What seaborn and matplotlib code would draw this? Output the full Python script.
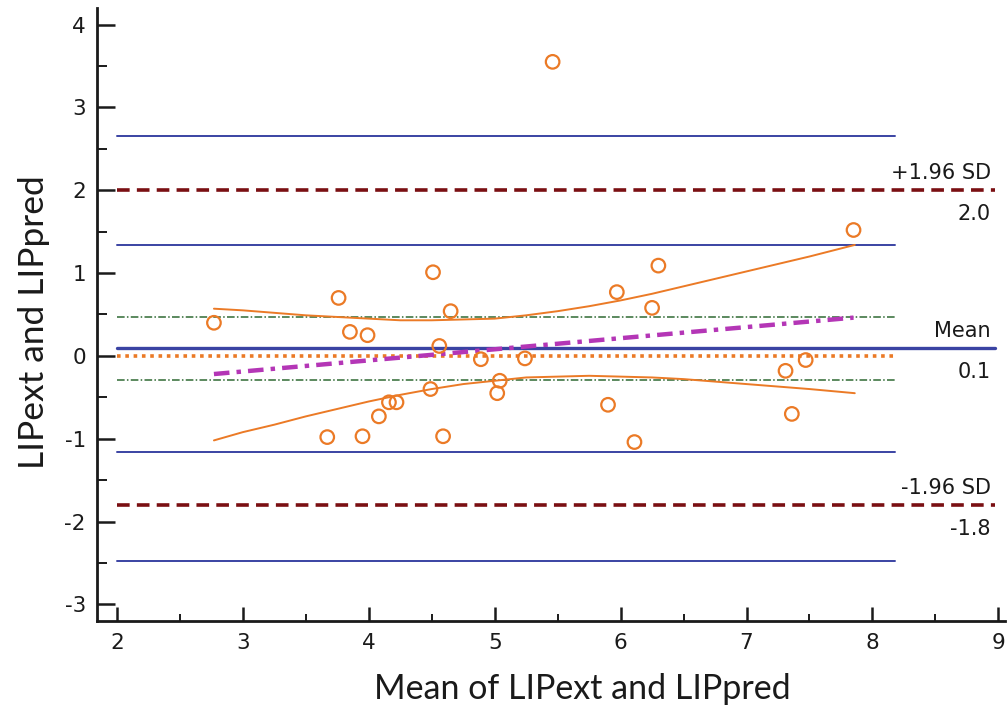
import numpy as np
import pandas as pd
import matplotlib
matplotlib.use("Agg")
import matplotlib.pyplot as plt
import seaborn as sns

# Bland-Altman data: mean of the two methods vs. their difference
mean_vals = [2.77, 3.67, 3.76, 3.85, 3.95, 3.99, 4.08, 4.16, 4.22, 4.49,
             4.51, 4.56, 4.59, 4.65, 4.89, 5.02, 5.04, 5.24, 5.46, 5.90,
             5.97, 6.11, 6.25, 6.30, 7.31, 7.36, 7.47, 7.85]
diff_vals = [0.40, -0.98, 0.70, 0.29, -0.97, 0.25, -0.73, -0.56, -0.56, -0.40,
             1.01, 0.12, -0.97, 0.54, -0.04, -0.45, -0.30, -0.03, 3.55, -0.59,
             0.77, -1.04, 0.58, 1.09, -0.18, -0.70, -0.05, 1.52]

# Agreement statistics
bias = 0.1
upper_loa = 2.0
lower_loa = -1.8
bias_ci = [-0.29, 0.47]
upper_loa_ci = [1.34, 2.65]
lower_loa_ci = [-2.47, -1.16]

# Regression of difference on mean, with its confidence band
reg_intercept = -0.59
reg_slope = 0.134
band_x = [2.77, 3.00, 3.25, 3.50, 3.75, 4.00, 4.25, 4.50, 4.75, 5.00, 5.25,
          5.50, 5.75, 6.00, 6.25, 6.50, 6.75, 7.00, 7.25, 7.50, 7.86]
band_upper = [0.57, 0.55, 0.52, 0.49, 0.47, 0.45, 0.43, 0.43, 0.44, 0.45, 0.49,
              0.54, 0.60, 0.67, 0.75, 0.84, 0.93, 1.02, 1.11, 1.20, 1.34]
band_lower = [-1.02, -0.92, -0.83, -0.73, -0.64, -0.55, -0.47, -0.40, -0.34, -0.30, -0.26,
              -0.25, -0.24, -0.25, -0.26, -0.28, -0.31, -0.34, -0.37, -0.40, -0.45]

# Labels
x_label = "Mean of LIPext and LIPpred"
y_label = "LIPext and LIPpred"
upper_text = ["+1.96 SD", "2.0"]
mean_text = ["Mean", "0.1"]
lower_text = ["-1.96 SD", "-1.8"]

sns.set_theme(style="white")
plt.rcParams["font.family"] = ["DejaVu Sans"]
plt.rcParams["axes.unicode_minus"] = False

ORANGE = "#EB7A26"
BLUE = "#3A43A3"
DARKRED = "#7A0F12"
GREEN = "#2F6A33"
MAGENTA = "#B436B6"
INK = "#1a1a1a"

fig = plt.figure(figsize=(10.07, 7.08), dpi=100)
ax = fig.add_axes([0.0963, 0.1229, 0.9017, 0.8658])

ax.set_xlim(1.841, 9.053)
ax.set_ylim(-3.2, 4.2)

short_end = 8.18
long_end = 8.97

# Confidence limits of the limits of agreement
for yv in upper_loa_ci + lower_loa_ci:
    ax.plot([2, short_end], [yv, yv], color=BLUE, lw=1.4, zorder=2)

# Confidence interval of the mean difference
for yv in bias_ci:
    ax.plot([2, short_end], [yv, yv], color=GREEN, lw=1.1,
            dashes=(5, 1.5, 1, 1.5), zorder=2)

# Line of equality
ax.plot([2, short_end], [0, 0], color=ORANGE, lw=2.6, dashes=(1, 1.3), zorder=2)

# Mean difference
ax.plot([2, long_end], [bias, bias], color=BLUE, lw=2.4, zorder=3)

# Limits of agreement
for yv in (upper_loa, lower_loa):
    ax.plot([2, long_end], [yv, yv], color=DARKRED, lw=2.6, dashes=(3.5, 2), zorder=3)

# Regression line
reg_x = np.array([min(mean_vals), max(mean_vals)])
ax.plot(reg_x, reg_intercept + reg_slope * reg_x, color=MAGENTA, lw=3.2,
        dashes=(3.5, 1.6, 1, 1.6), zorder=4)

# Confidence band of the regression line
band = pd.DataFrame({"x": band_x, "upper": band_upper, "lower": band_lower})
sns.lineplot(data=band, x="x", y="upper", ax=ax, color=ORANGE, lw=1.4, zorder=4)
sns.lineplot(data=band, x="x", y="lower", ax=ax, color=ORANGE, lw=1.4, zorder=4)

# Observations
pts = pd.DataFrame({"mean": mean_vals, "diff": diff_vals})
sns.scatterplot(data=pts, x="mean", y="diff", ax=ax, s=95, marker="o",
                facecolors="none", edgecolor=ORANGE, linewidth=1.6, zorder=5)

# Right-hand annotations
tx = 8.94
lab_kw = dict(ha="right", fontsize=15, color=INK, textcoords="offset points")
for yv, (above, below) in ((upper_loa, upper_text), (bias, mean_text), (lower_loa, lower_text)):
    ax.annotate(above, (tx, yv), xytext=(0, 5), va="bottom", **lab_kw)
    ax.annotate(below, (tx, yv), xytext=(0, -10), va="top", **lab_kw)

# Axes styling
for side in ("top", "right"):
    ax.spines[side].set_visible(False)
for side in ("left", "bottom"):
    ax.spines[side].set_color(INK)
    ax.spines[side].set_linewidth(2.0)

ax.set_xticks(range(2, 10))
ax.set_yticks(range(-3, 5))
ax.set_xticks(np.arange(2.5, 9.0, 1.0), minor=True)
ax.set_yticks(np.arange(-2.5, 4.0, 1.0), minor=True)
ax.tick_params(axis="y", which="major", direction="in", length=13, width=1.8,
               labelsize=15.5, pad=8, colors=INK)
ax.tick_params(axis="y", which="minor", direction="in", length=7, width=1.4)
ax.tick_params(axis="x", which="major", direction="in", length=10, width=1.8,
               labelsize=15.5, pad=9, colors=INK)
ax.tick_params(axis="x", which="minor", direction="in", length=5, width=1.4)
ax.tick_params(which="both", left=True, bottom=True, color=INK)

ax.set_xlabel(x_label, fontsize=24.5, family=["Lato", "DejaVu Sans"], color=INK)
ax.set_ylabel(y_label, fontsize=25.5, family=["Lato", "DejaVu Sans"], color=INK)
ax.xaxis.set_label_coords(0.534, -0.085)
ax.yaxis.set_label_coords(-0.052, 0.488)
ax.grid(False)

fig.savefig("out.png", dpi=100)
